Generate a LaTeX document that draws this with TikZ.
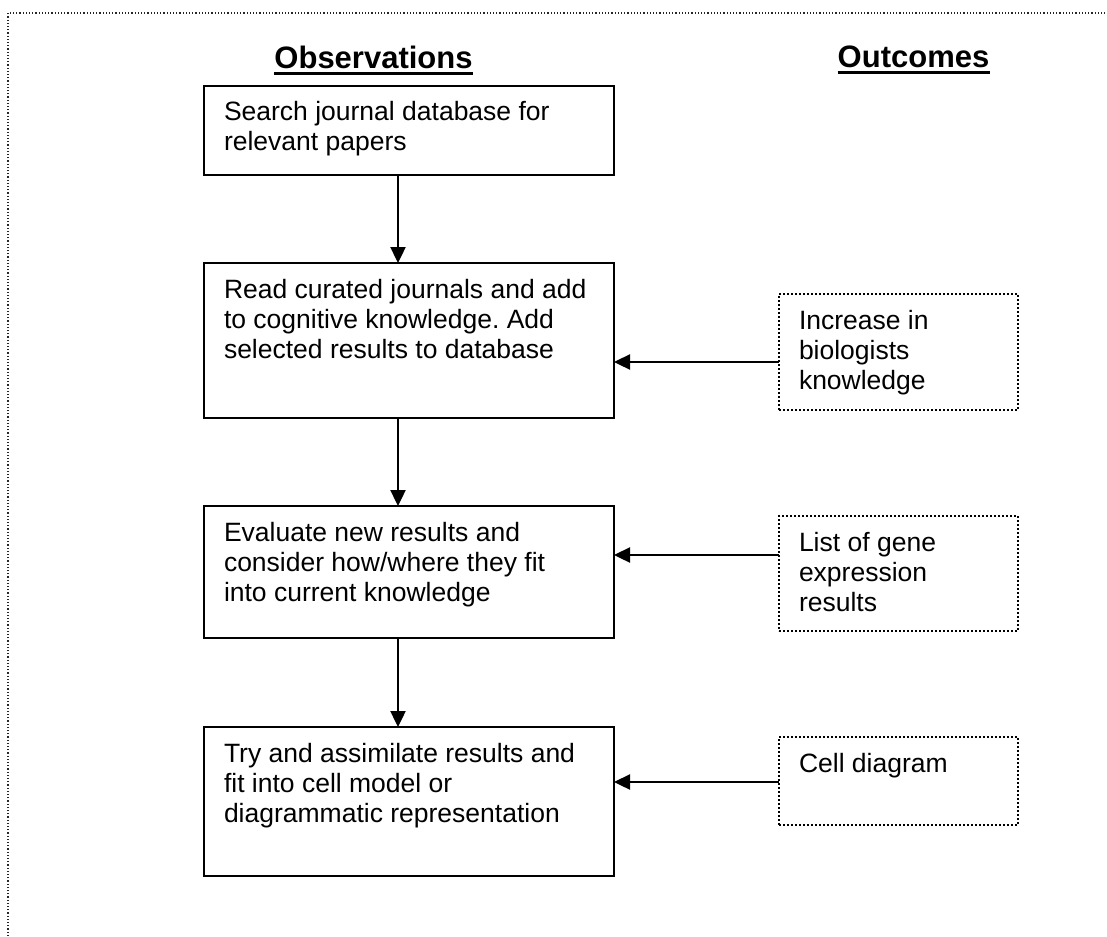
\documentclass[tikz,border=0pt]{standalone}
\usepackage{fontspec}
\setmainfont{Liberation Sans}
\usetikzlibrary{arrows.meta}
\hfuzz=40pt
\vfuzz=40pt
\frenchspacing

% top-aligned box text: #1 = height, #2 = width, #3 = text
\newcommand\flowtext[3]{\parbox[t][#1][t]{#2}{\fontsize{26.5pt}{30pt}\selectfont\raggedright\strut\ignorespaces#3}}

\tikzset{
  stepbox/.style={draw, line width=2.4pt, inner xsep=20pt, inner ysep=14pt,
    anchor=north west, outer sep=0pt},
  outbox/.style={stepbox, line width=2.8pt, dash pattern=on 2pt off 2pt},
  heading/.style={font=\bfseries\fontsize{31pt}{36pt}\selectfont, inner sep=0pt, anchor=base},
  headrule/.style={line width=3.2pt},
  flow/.style={line width=2.4pt, -{Triangle[length=16pt,width=15pt]}},
  frame/.style={line width=1.5pt, dash pattern=on 1.2pt off 2pt, black!85}
}

\begin{document}
\begin{tikzpicture}[x=1pt, y=-1pt]
  \useasboundingbox (0,0) rectangle (1107,936);

  % dotted page frame
  \draw[frame] (8,936) -- (8,13) -- (1107,13);

  % column headings
  \node[heading] (hobs) at (373.5,69) {Observations};
  \node[heading] (hout) at (913.5,68) {Outcomes};
  \draw[headrule] ([yshift=-4.5pt]hobs.base west) -- ([yshift=-4.5pt]hobs.base east);
  \draw[headrule] ([yshift=-4.5pt]hout.base west) -- ([yshift=-4.5pt]hout.base east);

  % observation steps
  \node[stepbox] (b1) at (204,86)  {\flowtext{61pt}{370pt}{Search journal database for\\relevant papers}};
  \node[stepbox] (b2) at (204,263) {\flowtext{127pt}{370pt}{Read curated journals and add\\to cognitive knowledge. Add\\selected results to database}};
  \node[stepbox] (b3) at (204,506) {\flowtext{104pt}{370pt}{Evaluate new results and\\consider how/where they fit\\into current knowledge}};
  \node[stepbox] (b4) at (204,727) {\flowtext{121pt}{370pt}{Try and assimilate results and\\fit into cell model or\\diagrammatic representation}};

  % outcomes
  \node[outbox] (o1) at (779,294) {\flowtext{88pt}{199pt}{Increase in\\biologists\\knowledge}};
  \node[outbox] (o2) at (779,516) {\flowtext{87pt}{199pt}{List of gene\\expression\\results}};
  \node[outbox] (o3) at (779,737) {\flowtext{60pt}{199pt}{Cell diagram}};

  % connector guide lines
  \coordinate (spine) at (398,0);
  \coordinate (r1) at (0,362);
  \coordinate (r2) at (0,555);
  \coordinate (r3) at (0,782);

  % vertical flow
  \draw[flow] (b1.south -| spine) -- (b2.north -| spine);
  \draw[flow] (b2.south -| spine) -- (b3.north -| spine);
  \draw[flow] (b3.south -| spine) -- (b4.north -| spine);

  % outcomes feeding back
  \draw[flow] (o1.west |- r1) -- (b2.east |- r1);
  \draw[flow] (o2.west |- r2) -- (b3.east |- r2);
  \draw[flow] (o3.west |- r3) -- (b4.east |- r3);
\end{tikzpicture}
\end{document}
